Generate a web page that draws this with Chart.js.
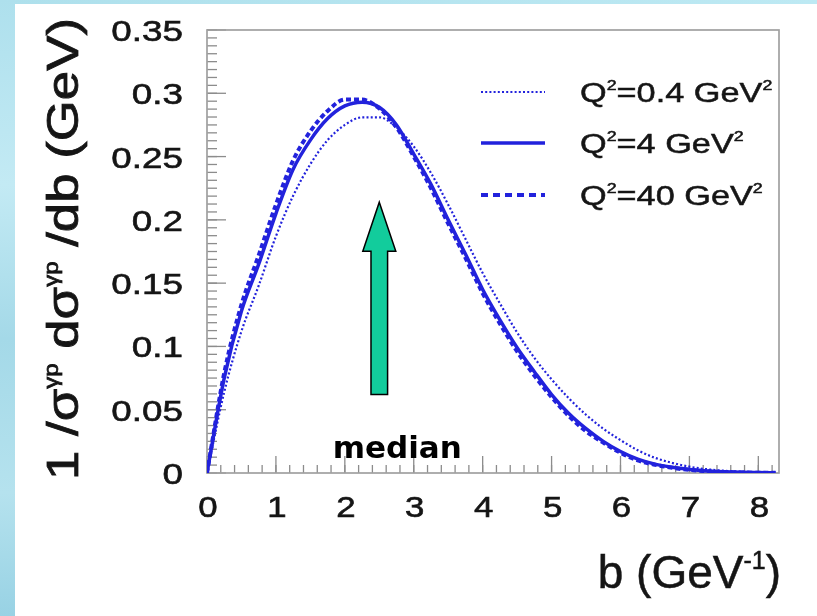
<!DOCTYPE html>
<html><head><meta charset="utf-8">
<script src="https://cdn.jsdelivr.net/npm/chart.js@4/dist/chart.umd.min.js"></script>
<style>
html,body{margin:0;padding:0;width:817px;height:616px;overflow:hidden;background:#fff}
#wrap{position:absolute;left:0;top:0;width:817px;height:616px}
</style></head>
<body><div id="wrap"><canvas id="c" width="817" height="616"></canvas></div>
<script>
// ---- data ----
const bValues = [0,0.25,0.5,0.75,1,1.25,1.5,1.75,2,2.25,2.5,2.75,3,3.25,3.5,3.75,4,4.25,4.5,4.75,5,5.25,5.5,5.75,6,6.25,6.5,6.75,7,7.25,7.5,7.75,8,8.25];
const q2_04 = [0,0.064,0.112,0.148,0.187,0.219,0.244,0.263,0.275,0.281,0.281,0.273,0.258,0.237,0.212,0.185,0.158,0.134,0.111,0.091,0.074,0.059,0.046,0.035,0.026,0.018,0.012,0.008,0.005,0.003,0.0018,0.001,0.0006,0.0003];
const q2_4  = [0,0.075,0.128,0.165,0.205,0.240,0.263,0.280,0.290,0.293,0.289,0.275,0.252,0.228,0.200,0.173,0.145,0.121,0.099,0.080,0.062,0.047,0.035,0.025,0.017,0.011,0.007,0.0045,0.0028,0.0016,0.0009,0.0005,0.0003,0.0001];
const q2_40 = [0,0.079,0.133,0.172,0.212,0.247,0.270,0.286,0.295,0.295,0.288,0.273,0.250,0.225,0.197,0.170,0.142,0.118,0.096,0.077,0.060,0.045,0.033,0.024,0.016,0.010,0.0065,0.0041,0.0025,0.0014,0.0008,0.0004,0.0002,0.0001];
const seriesLabels = ['Q²=0.4 GeV²','Q²=4 GeV²','Q²=40 GeV²'];
const xTickValues = [0,1,2,3,4,5,6,7,8];
const xTickLabels = ['0','1','2','3','4','5','6','7','8'];
const yTickValues = [0,0.05,0.1,0.15,0.2,0.25,0.3,0.35];
const yTickLabels = ['0','0.05','0.1','0.15','0.2','0.25','0.3','0.35'];
const xMinorStep = 0.2;
const yMinorStep = 0.00625;
const xRange = [0, 8.3];
const yRange = [0, 0.35];
const medianB = 2.5;
const arrowFrom = 0.062, arrowTo = 0.214;
const medianText = 'median';

// ---- styles ----
const BLUE = '#2222dc';
const styles = [
  {w:2.2, dash:[2,2.2]},
  {w:3.5, dash:[]},
  {w:4, dash:[5,3]}
];
const seriesData = [q2_04, q2_4, q2_40];
const SANS = '"Liberation Sans", Arial, sans-serif';
const INK = '#151515';

function richWidth(ctx, segs, sx){
  let w=0; for(const s of segs){ctx.font=s.font; w+=ctx.measureText(s.t).width*sx;} return w;
}
function drawRich(ctx, segs, x, y, align, sx, stroke){
  const w = richWidth(ctx, segs, sx);
  let cx = align==='right' ? x-w : align==='center' ? x-w/2 : x;
  for(const s of segs){
    ctx.font = s.font;
    const sw = ctx.measureText(s.t).width*sx;
    ctx.save(); ctx.translate(cx, y + (s.dy||0)); ctx.scale(sx,1);
    ctx.fillText(s.t,0,0);
    if(stroke){ ctx.lineWidth = stroke; ctx.strokeStyle = ctx.fillStyle; ctx.strokeText(s.t,0,0); }
    ctx.restore();
    cx += sw;
  }
  return w;
}

const decor = {
  id:'decor',
  beforeDraw(chart){
    const ctx = chart.ctx;
    ctx.save();
    const g = ctx.createLinearGradient(0,0,0,616);
    g.addColorStop(0,'#aee0ed'); g.addColorStop(0.3,'#c3eaf4'); g.addColorStop(0.55,'#a4d9e8'); g.addColorStop(0.8,'#b5e2ee'); g.addColorStop(1,'#98d2e4');
    ctx.fillStyle = g; ctx.fillRect(0,0,817,616);
    const g2 = ctx.createLinearGradient(0,0,817,0);
    g2.addColorStop(0,'#aee0ec'); g2.addColorStop(1,'#bde9f3');
    ctx.fillStyle = g2; ctx.fillRect(15,0,802,4);
    ctx.fillStyle = '#ffffff'; ctx.fillRect(15,4,802,612);
    ctx.restore();
  },
  beforeDatasetsDraw(chart){
    const ctx = chart.ctx, a = chart.chartArea, xs = chart.scales.x, ys = chart.scales.y;
    ctx.save();
    ctx.strokeStyle = '#8c8c8c'; ctx.lineWidth = 1.3;
    for(let v = xRange[0]; v <= xRange[1]+1e-9; v += xMinorStep){
      const p = xs.getPixelForValue(v);
      ctx.beginPath(); ctx.moveTo(p, a.bottom); ctx.lineTo(p, a.bottom-8); ctx.stroke();
    }
    for(const v of xTickValues){
      const p = xs.getPixelForValue(v);
      ctx.beginPath(); ctx.moveTo(p, a.bottom); ctx.lineTo(p, a.bottom-17); ctx.stroke();
    }
    for(let v = yRange[0]; v <= yRange[1]+1e-9; v += yMinorStep){
      const p = ys.getPixelForValue(v);
      ctx.beginPath(); ctx.moveTo(a.left, p); ctx.lineTo(a.left+10, p); ctx.stroke();
    }
    for(const v of yTickValues){
      const p = ys.getPixelForValue(v);
      ctx.beginPath(); ctx.moveTo(a.left, p); ctx.lineTo(a.left+19, p); ctx.stroke();
    }
    ctx.strokeStyle = '#a0a0a0'; ctx.lineWidth = 1.7;
    ctx.strokeRect(a.left, a.top, a.right-a.left, a.bottom-a.top);
    ctx.restore();
  },
  afterDraw(chart){
    const ctx = chart.ctx, a = chart.chartArea, xs = chart.scales.x, ys = chart.scales.y;
    ctx.save();
    ctx.fillStyle = INK;
    ctx.textBaseline = 'alphabetic';
    xTickLabels.forEach((t,i)=>{
      const p = xs.getPixelForValue(xTickValues[i]);
      drawRich(ctx,[{t, font:'29px '+SANS}], p+1, a.bottom+44, 'center', 1.2, 0.6);
    });
    yTickLabels.forEach((t,i)=>{
      const p = ys.getPixelForValue(yTickValues[i]);
      drawRich(ctx,[{t, font:'29px '+SANS}], a.left-24, p+11, 'right', 1.27, 0.6);
    });
    // x title
    drawRich(ctx,[
      {t:'b (GeV', font:'46px '+SANS},
      {t:'-1', font:'25px '+SANS, dy:-19},
      {t:')', font:'46px '+SANS}
    ], a.right+2, a.bottom+115, 'right', 1.0, 0.5);
    // y title (rotated)
    ctx.save();
    ctx.translate(62, 249);
    ctx.rotate(-Math.PI/2);
    const big = '44px '+SANS, sm = '20px '+SANS;
    const ysegs = [
      {t:'1 /σ', font:big}, {t:'γp', font:sm, dy:-20},
      {t:' dσ', font:big}, {t:'γp', font:sm, dy:-20},
      {t:' /db (GeV)', font:big}
    ];
    const natural = richWidth(ctx, ysegs, 1);
    drawRich(ctx, ysegs, 0, 16, 'center', 462/natural, 0.8);
    ctx.restore();
    // legend
    const legY = [92, 143, 195];
    seriesLabels.forEach((lab,i)=>{
      ctx.save();
      ctx.strokeStyle = BLUE; ctx.lineWidth = styles[i].w; ctx.setLineDash(i===2?[7,5]:styles[i].dash);
      ctx.beginPath(); ctx.moveTo(481, legY[i]); ctx.lineTo(545, legY[i]); ctx.stroke();
      ctx.restore();
      const parts = lab.split('²');
      drawRich(ctx,[
        {t:parts[0], font:'27px '+SANS},
        {t:'2', font:'14px '+SANS, dy:-12},
        {t:parts[1], font:'27px '+SANS},
        {t:'2', font:'14px '+SANS, dy:-12}
      ], 580, legY[i]+10, 'left', 1.27, 0.5);
    });
    // median arrow
    const ax = xs.getPixelForValue(medianB);
    const yTip = ys.getPixelForValue(arrowTo), yBase = ys.getPixelForValue(arrowFrom);
    const headH = 49, headW = 16.5, shaftW = 8.3;
    ctx.beginPath();
    ctx.moveTo(ax, yTip);
    ctx.lineTo(ax+headW, yTip+headH);
    ctx.lineTo(ax+shaftW, yTip+headH);
    ctx.lineTo(ax+shaftW, yBase);
    ctx.lineTo(ax-shaftW, yBase);
    ctx.lineTo(ax-shaftW, yTip+headH);
    ctx.lineTo(ax-headW, yTip+headH);
    ctx.closePath();
    ctx.fillStyle = '#12cc9c'; ctx.fill();
    ctx.strokeStyle = '#000'; ctx.lineWidth = 1.5; ctx.stroke();
    ctx.fillStyle = '#000';
    ctx.font = 'bold 31px "DejaVu Sans", sans-serif';
    ctx.textAlign = 'center';
    ctx.fillText(medianText, ax+18, 458);
    ctx.restore();
  }
};

new Chart(document.getElementById('c'), {
  type:'line',
  data:{
    datasets: seriesData.map((d,i)=>({
      label: seriesLabels[i],
      data: bValues.map((b,j)=>({x:b, y:d[j]})),
      borderColor: BLUE,
      borderWidth: styles[i].w,
      borderDash: styles[i].dash,
      pointRadius: 0,
      fill:false,
      cubicInterpolationMode:'monotone'
    }))
  },
  options:{
    responsive:false,
    animation:false,
    layout:{padding:{left:207, right:38, top:30, bottom:143}},
    plugins:{legend:{display:false}, tooltip:{enabled:false}},
    scales:{
      x:{type:'linear', min:xRange[0], max:xRange[1], display:false},
      y:{type:'linear', min:yRange[0], max:yRange[1], display:false}
    }
  },
  plugins:[decor]
});
</script>
</body></html>
